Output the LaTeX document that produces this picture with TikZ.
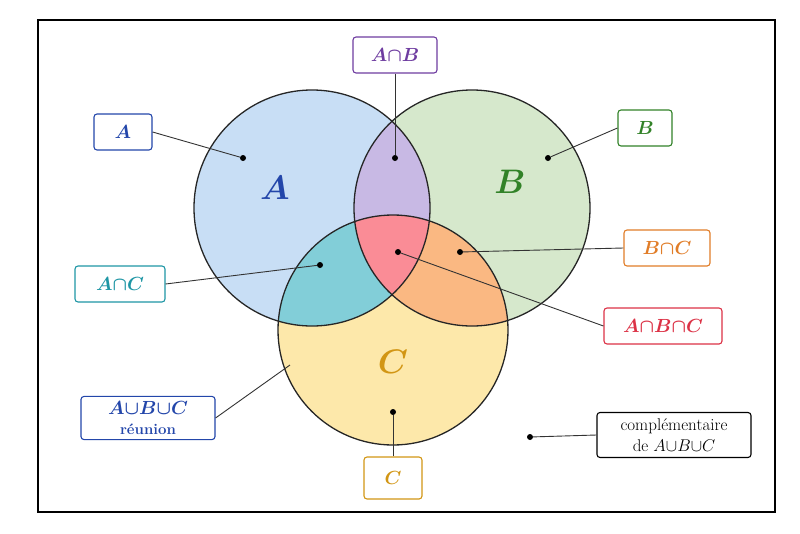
\RequirePackage{fix-cm}
\documentclass[tikz,border=0pt]{standalone}
\usepackage{bm}
\begin{document}
\begin{tikzpicture}[x=1pt,y=-1pt,
  lbl/.style={draw=#1,text=#1,line width=1.1pt,rounded corners=3pt,fill=white,inner sep=5pt,minimum height=36pt,font=\fontsize{19}{22}\selectfont},
  ln/.style={line width=0.9pt,black!80},
  dot/.style={circle,fill=black,inner sep=0pt,minimum size=6pt},
  circ/.style={line width=1.3pt,black!85}]
\definecolor{cA}{RGB}{200,222,245}
\definecolor{cB}{RGB}{214,232,204}
\definecolor{cC}{RGB}{253,232,170}
\definecolor{cAB}{RGB}{200,185,228}
\definecolor{cAC}{RGB}{130,206,216}
\definecolor{cBC}{RGB}{250,184,130}
\definecolor{cABC}{RGB}{250,140,150}
\definecolor{tA}{RGB}{35,70,170}
\definecolor{tB}{RGB}{50,130,40}
\definecolor{tC}{RGB}{210,150,20}
\definecolor{tAB}{RGB}{110,60,160}
\definecolor{tAC}{RGB}{30,150,165}
\definecolor{tBC}{RGB}{225,125,40}
\definecolor{tABC}{RGB}{220,50,70}
\useasboundingbox (0,0) rectangle (800,533);
\draw[line width=1.4pt] (38,20) rectangle (775,512);
\def\cA{(312,208) circle (118)}
\def\cB{(472,208) circle (118)}
\def\cC{(393,330) circle (115)}
\fill[cA] \cA; \fill[cB] \cB; \fill[cC] \cC;
\begin{scope}\clip \cA; \fill[cAB] \cB; \fill[cAC] \cC; \end{scope}
\begin{scope}\clip \cB; \fill[cBC] \cC; \end{scope}
\begin{scope}\clip \cA; \clip \cB; \fill[cABC] \cC; \end{scope}
\draw[circ] \cA; \draw[circ] \cB; \draw[circ] \cC;
\node[text=tA,font=\fontsize{34}{34}\selectfont] (tA) at (275,188) {$\bm{A}$};
\node[text=tB,font=\fontsize{34}{34}\selectfont] (tB) at (510,182) {$\bm{B}$};
\node[text=tC,font=\fontsize{34}{34}\selectfont] (tC) at (393,362) {$\bm{C}$};
\node[dot] (dA) at (243,158) {};
\node[dot] (dAB) at (395,158) {};
\node[dot] (dB) at (548,158) {};
\node[dot] (dBC) at (460,252) {};
\node[dot] (dABC) at (398,252) {};
\node[dot] (dAC) at (320,265) {};
\node[dot] (dC) at (393,412) {};
\node[dot] (dK) at (530,437) {};
\coordinate (pU) at (290,365);
\node[lbl=tA,minimum width=58pt] (bA) at (123,132) {$\bm{A}$};
\node[lbl=tAB,minimum width=84pt] (bAB) at (395,55) {$\bm{A{\cap}B}$};
\node[lbl=tB,minimum width=54pt] (bB) at (645,128) {$\bm{B}$};
\node[lbl=tBC,minimum width=86pt] (bBC) at (667,248) {$\bm{B{\cap}C}$};
\node[lbl=tABC,minimum width=118pt] (bABC) at (663,326) {$\bm{A{\cap}B{\cap}C}$};
\node[lbl=tAC,minimum width=90pt] (bAC) at (120,284) {$\bm{A{\cap}C}$};
\node[lbl=tA,minimum width=134pt,align=center,inner sep=5pt] (bU) at (148,418) {$\bm{A{\cup}B{\cup}C}$\\[-2pt]{\fontsize{15}{17}\selectfont\bfseries réunion}};
\node[lbl=tC,minimum width=58pt,minimum height=42pt] (bC) at (393,478) {$\bm{C}$};
\node[lbl=black,minimum width=154pt,align=center,font=\fontsize{17}{21}\selectfont,inner sep=6pt] (bK) at (674,435) {complémentaire\\de $A{\cup}B{\cup}C$};
\draw[ln] (bA.east) -- (dA);
\draw[ln] (bAB.south) -- (dAB);
\draw[ln] (bB.west) -- (dB);
\draw[ln] (bBC.west) -- (dBC);
\draw[ln] (bABC.west) -- (dABC);
\draw[ln] (bAC.east) -- (dAC);
\draw[ln] (bU.east) -- (pU);
\draw[ln] (bC.north) -- (dC);
\draw[ln] (bK.west) -- (dK);
\end{tikzpicture}
\end{document}
